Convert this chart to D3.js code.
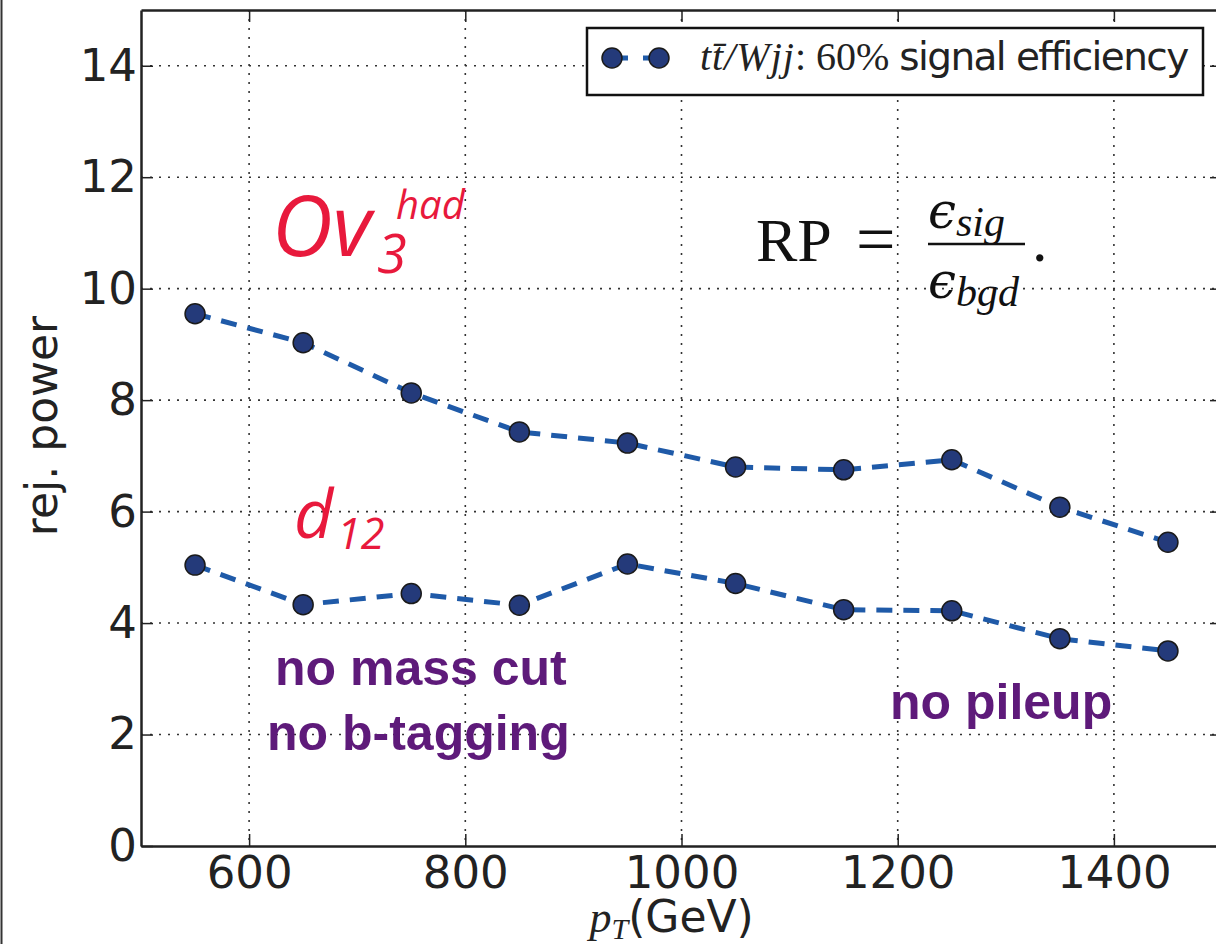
<!DOCTYPE html>
<html>
<head>
<meta charset="utf-8">
<script src="https://cdn.jsdelivr.net/npm/d3@7"></script>
<style>
  body { margin: 0; background: #fff; }
  svg { display: block; }
</style>
</head>
<body>
<svg id="chart" width="1216" height="944"></svg>
<script>
// chart values
const pt_bins = [550, 650, 750, 850, 950, 1050, 1150, 1250, 1350, 1450];
const ov3_had = [9.55, 9.03, 8.13, 7.43, 7.23, 6.80, 6.75, 6.93, 6.08, 5.45];
const d_12 = [5.04, 4.33, 4.53, 4.32, 5.06, 4.71, 4.24, 4.22, 3.72, 3.50];
const x_ticks = [600, 800, 1000, 1200, 1400];
const y_ticks = [0, 2, 4, 6, 8, 10, 12, 14];

// layout
const plot_left = 141, plot_right = 1222, plot_top = 10, plot_bottom = 846;
const sans = "'DejaVu Sans', sans-serif";
const serif = "'Liberation Serif', 'DejaVu Serif', serif";
const line_color = '#1f5aa8';
const marker_color = '#243a7a';
const red = '#e8193c';
const purple = '#5e1a7a';

let svg = d3.select('#chart');

let x = d3.scaleLinear().domain([500, 1500]).range([plot_left, plot_right]);
let y = d3.scaleLinear().domain([0, 15]).range([plot_bottom, plot_top]);

// figure edge on the left
svg.append('line')
    .attr('x1', 1.5).attr('x2', 1.5).attr('y1', 0).attr('y2', 944)
    .attr('stroke', '#333').attr('stroke-width', 2);

// grid
let grid = svg.append('g');
grid.selectAll('.vg')
    .data(x_ticks)
    .enter()
    .append('line')
    .attr('x1', d => x(d)).attr('x2', d => x(d))
    .attr('y1', plot_top).attr('y2', plot_bottom);
grid.selectAll('.hg')
    .data(y_ticks.filter(d => d > 0))
    .enter()
    .append('line')
    .attr('x1', plot_left).attr('x2', plot_right)
    .attr('y1', d => y(d)).attr('y2', d => y(d));
grid.selectAll('line')
    .attr('stroke', '#333')
    .attr('stroke-width', 1.6)
    .attr('stroke-dasharray', '2,7');

// axes
function style_axis(g) {
    g.select('.domain').attr('stroke', '#222').attr('stroke-width', 2.5);
    g.selectAll('.tick line').attr('stroke', '#222').attr('stroke-width', 1.5);
    g.selectAll('.tick text')
        .attr('fill', '#222')
        .style('font-family', sans)
        .style('font-size', '45px');
}

svg.append('g')
    .attr('transform', `translate(0, ${plot_bottom})`)
    .call(d3.axisBottom(x).tickValues(x_ticks).tickFormat(d3.format('d')).tickSize(-12).tickSizeOuter(0).tickPadding(10))
    .call(style_axis);

svg.append('g')
    .attr('transform', `translate(0, ${plot_top})`)
    .call(d3.axisTop(x).tickValues(x_ticks).tickSize(-12).tickSizeOuter(0).tickFormat(''))
    .call(style_axis);

svg.append('g')
    .attr('transform', `translate(${plot_left}, 0)`)
    .call(d3.axisLeft(y).tickValues(y_ticks).tickFormat(d3.format('d')).tickSize(-12).tickSizeOuter(0).tickPadding(4))
    .call(style_axis);

svg.append('g')
    .attr('transform', `translate(${plot_right}, 0)`)
    .call(d3.axisRight(y).tickValues(y_ticks).tickSize(-12).tickSizeOuter(0).tickFormat(''))
    .call(style_axis);

// axis labels
svg.append('text')
    .attr('transform', 'translate(57, 426) rotate(-90)')
    .attr('text-anchor', 'middle')
    .style('font-family', sans)
    .style('font-size', '44px')
    .attr('fill', '#222')
    .text('rej. power');

let xl = svg.append('text')
    .attr('x', x(1000) - 92)
    .attr('y', 932)
    .attr('fill', '#222');
xl.append('tspan').style('font-family', serif).style('font-style', 'italic').style('font-size', '44px').text('p');
xl.append('tspan').style('font-family', serif).style('font-style', 'italic').style('font-size', '30px').attr('dy', 7).text('T');
xl.append('tspan').style('font-family', sans).style('font-size', '44px').attr('dy', -7).text('(GeV)');

// series
let series = [ov3_had, d_12];
let line = d3.line()
    .x((d, i) => x(pt_bins[i]))
    .y(d => y(d));

svg.append('g')
    .selectAll('path')
    .data(series)
    .enter()
    .append('path')
    .attr('d', d => line(d))
    .attr('fill', 'none')
    .attr('stroke', line_color)
    .attr('stroke-width', 5)
    .attr('stroke-dasharray', '16,11');

svg.append('g')
    .selectAll('g')
    .data(series)
    .enter()
    .append('g')
    .selectAll('circle')
    .data(d => d)
    .enter()
    .append('circle')
    .attr('cx', (d, i) => x(pt_bins[i]))
    .attr('cy', d => y(d))
    .attr('r', 10)
    .attr('fill', marker_color)
    .attr('stroke', '#1a1a1a')
    .attr('stroke-width', 1.5);

// legend
let legend = svg.append('g');
legend.append('rect')
    .attr('x', 587).attr('y', 28).attr('width', 616).attr('height', 67)
    .attr('fill', '#fff').attr('stroke', '#111').attr('stroke-width', 2.5);
legend.append('line')
    .attr('x1', 612).attr('x2', 659).attr('y1', 58).attr('y2', 58)
    .attr('stroke', line_color).attr('stroke-width', 5).attr('stroke-dasharray', '16,15');
legend.selectAll('circle')
    .data([612, 659])
    .enter()
    .append('circle')
    .attr('cx', d => d).attr('cy', 58).attr('r', 10)
    .attr('fill', marker_color).attr('stroke', '#1a1a1a').attr('stroke-width', 1.5);
let lt = legend.append('text').attr('x', 700).attr('y', 70).attr('fill', '#222');
lt.append('tspan').style('font-family', serif).style('font-style', 'italic').style('font-size', '40px').style('letter-spacing', '1px').text('tt\u0304/Wjj');
lt.append('tspan').style('font-family', serif).style('font-size', '40px').text(': 60% ');
lt.append('tspan').style('font-family', sans).style('font-size', '39px').style('letter-spacing', '-1.6px').text('signal efficiency');

// annotations
let ov = svg.append('text').attr('fill', red).style('font-family', "'Open Sans', sans-serif").style('font-style', 'italic');
ov.append('tspan').attr('x', 272).attr('y', 256).style('font-size', '84px').text('Ov');
ov.append('tspan').attr('x', 377).attr('y', 273).style('font-size', '54px').text('3');
ov.append('tspan').attr('x', 396).attr('y', 219).style('font-size', '40px').text('had');

let dd = svg.append('text').attr('fill', red).style('font-family', "'Open Sans', sans-serif").style('font-style', 'italic');
dd.append('tspan').attr('x', 294).attr('y', 538).style('font-size', '68px').text('d');
dd.append('tspan').attr('x', 337).attr('y', 549).style('font-size', '43px').text('12');

let notes = [
    {text: 'no mass cut', x: 275, y: 685},
    {text: 'no b-tagging', x: 267, y: 750},
    {text: 'no pileup', x: 890, y: 719}
];
svg.append('g')
    .selectAll('text')
    .data(notes)
    .enter()
    .append('text')
    .attr('x', d => d.x)
    .attr('y', d => d.y)
    .attr('fill', purple)
    .style('font-family', "'Liberation Sans', Arial, sans-serif")
    .style('font-weight', 'bold')
    .style('font-size', '50px')
    .text(d => d.text);

// RP formula
let rp = svg.append('g').attr('fill', '#111');
rp.append('text').attr('x', 756).attr('y', 261).style('font-family', serif).style('font-size', '62px').text('RP');
rp.append('text').attr('x', 856).attr('y', 263).style('font-family', serif).style('font-size', '70px').text('=');
let num = rp.append('text').attr('x', 928).attr('y', 228).style('font-family', "'DejaVu Serif', serif").style('font-style', 'italic');
num.append('tspan').style('font-size', '50px').text('\u03f5');
num.append('tspan').style('font-size', '42px').attr('dy', 8).style('font-family', serif).text('sig');
let den = rp.append('text').attr('x', 928).attr('y', 298).style('font-family', "'DejaVu Serif', serif").style('font-style', 'italic');
den.append('tspan').style('font-size', '50px').text('\u03f5');
den.append('tspan').style('font-size', '42px').attr('dy', 8).style('font-family', serif).text('bgd');
rp.append('line')
    .attr('x1', 928).attr('x2', 1025).attr('y1', 244).attr('y2', 244)
    .attr('stroke', '#111').attr('stroke-width', 2.5);
rp.append('text').attr('x', 1032).attr('y', 261).style('font-family', serif).style('font-size', '62px').text('.');
</script>
</body>
</html>
